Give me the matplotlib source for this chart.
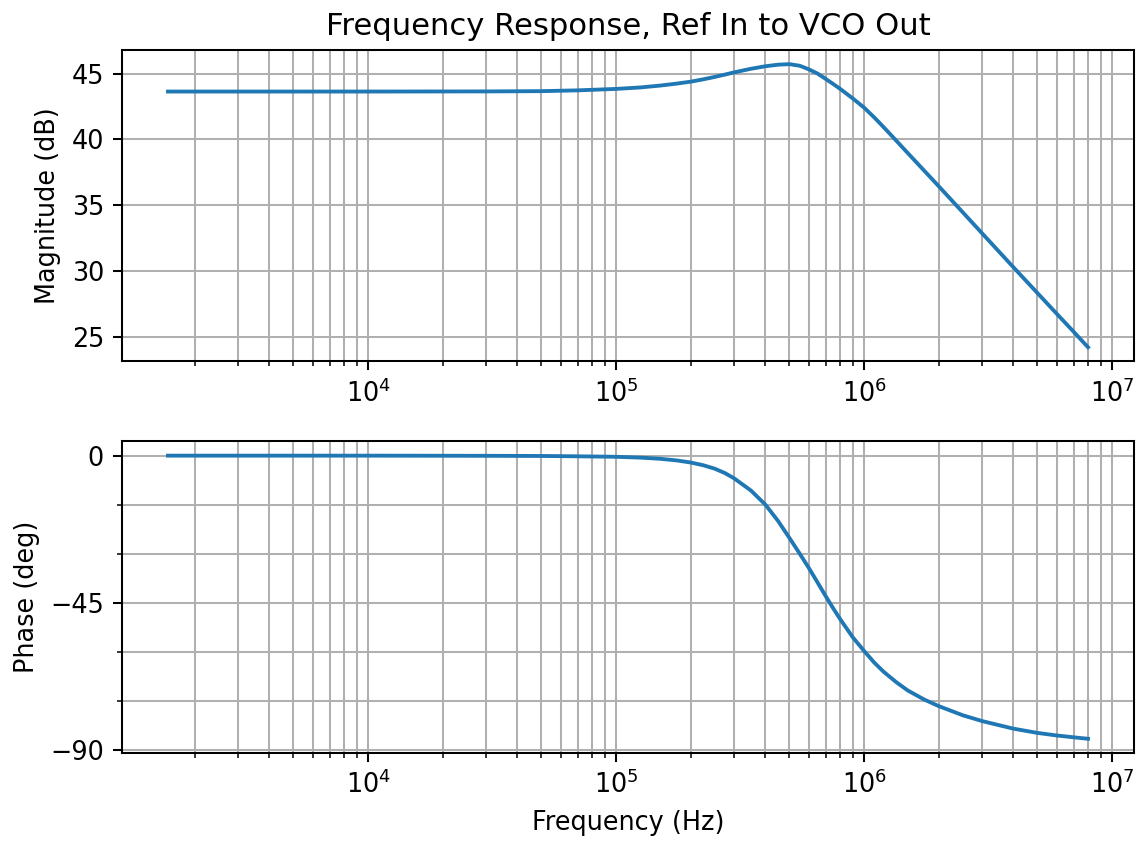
import matplotlib
matplotlib.use('Agg')
import matplotlib.pyplot as plt
from matplotlib.ticker import MultipleLocator

# values
freq = [1.56e3, 3e3, 1e4, 3e4, 5e4, 7e4, 1e5, 1.25e5, 1.5e5, 1.75e5,
        2e5, 2.25e5, 2.5e5, 2.75e5, 3e5, 3.5e5, 4e5, 4.5e5, 5e5, 5.5e5,
        6e5, 6.5e5, 7e5, 7.5e5, 8e5, 9e5, 1e6, 1.1e6, 1.2e6, 1.35e6,
        1.5e6, 1.75e6, 2e6, 2.5e6, 3e6, 4e6, 5e6, 6e6, 7e6, 8e6]
mag_db = [43.64, 43.64, 43.64, 43.65, 43.67, 43.73, 43.84, 43.95, 44.09, 44.24,
          44.39, 44.57, 44.75, 44.93, 45.10, 45.37, 45.56, 45.68, 45.72, 45.60,
          45.32, 45.00, 44.60, 44.22, 43.85, 43.12, 42.42, 41.67, 40.93, 39.90,
          38.97, 37.62, 36.45, 34.47, 32.85, 30.30, 28.34, 26.74, 25.40, 24.22]
phase_deg = [0.0, 0.0, 0.0, -0.05, -0.1, -0.2, -0.35, -0.6, -0.95, -1.45,
             -2.1, -2.95, -4.0, -5.35, -7.0, -10.7, -15.0, -20.0, -25.2, -30.0,
             -34.5, -38.9, -43.0, -46.7, -50.0, -55.6, -59.8, -63.4, -66.2, -69.4,
             -71.9, -74.7, -76.7, -79.5, -81.3, -83.6, -84.9, -85.7, -86.25, -86.7]

dpi = 184
fig, (ax1, ax2) = plt.subplots(2, 1, figsize=(1144/dpi, 846/dpi), dpi=dpi)
fig.subplots_adjust(left=0.1066, right=0.9913, top=0.9409, bottom=0.11, hspace=0.257)

ax1.semilogx(freq, mag_db)
ax1.set_title('Frequency Response, Ref In to VCO Out')
ax1.set_ylabel('Magnitude (dB)')
ax1.grid(True, which='both')

ax2.semilogx(freq, phase_deg)
ax2.set_xlabel('Frequency (Hz)')
ax2.set_ylabel('Phase (deg)')
ax2.yaxis.set_major_locator(MultipleLocator(45))
ax2.yaxis.set_minor_locator(MultipleLocator(15))
ax2.grid(True, which='both')

fig.savefig('out.png', dpi=dpi)
